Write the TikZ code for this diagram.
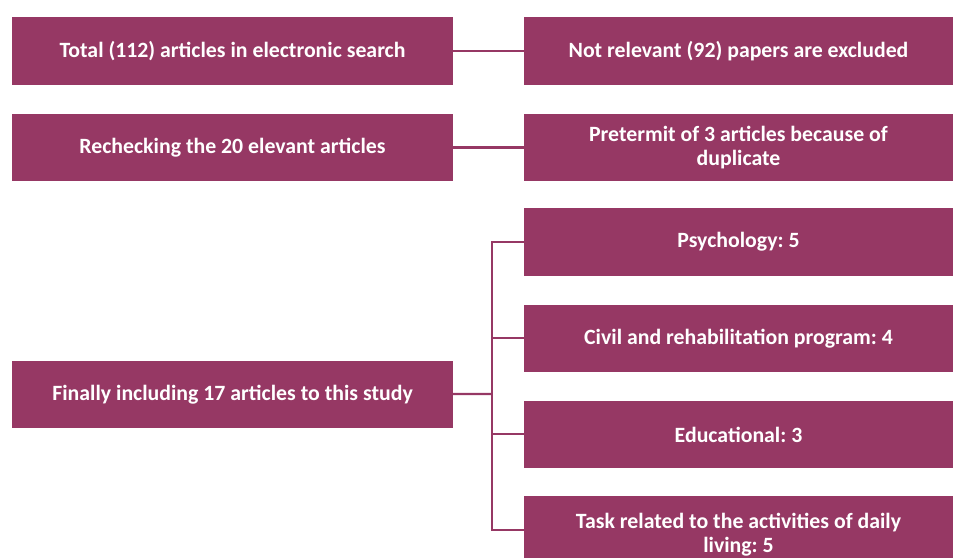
\documentclass[tikz,border=0pt]{standalone}
\usepackage{fontspec}
\setmainfont{Carlito}
\frenchspacing
\definecolor{plum}{RGB}{150,56,100}
\tikzset{
    stagebox/.style={fill=plum, text=white, font=\fontsize{21.8}{24}\selectfont\bfseries,
        align=center, inner sep=0pt, minimum height=67.5pt},
    leftbox/.style={stagebox, minimum width=441pt},
    rightbox/.style={stagebox, minimum width=429pt},
    link/.style={draw=plum, line width=2.2pt}
}
\begin{document}
\begin{tikzpicture}[x=1pt, y=-1pt]
    \useasboundingbox (0,0) rectangle (953,557);

    % Search and screening
    \node [leftbox] (total) at (232.5, 51) {Total (112) articles in electronic search};
    \node [rightbox] (excluded) at (738.5, 51) {Not relevant (92) papers are excluded};
    \node [leftbox] (recheck) at (232.5, 147.5) {Rechecking the 20 elevant articles};
    \node [rightbox] (duplicate) at (738.5, 147.5) {Pretermit of 3 articles because of\\duplicate};

    % Final selection
    \node [leftbox] (final) at (232.5, 394.5) {Finally including 17 articles to this study};
    \node [rightbox] (psych) at (738.5, 242) {Psychology: 5};
    \node [rightbox] (civil) at (738.5, 338.5) {Civil and rehabilitation program: 4};
    \node [rightbox] (edu) at (738.5, 434.5) {Educational: 3};
    \node [rightbox, minimum height=78pt] (task) at (738.5, 535) {Task related to the activities of daily\\living: 5};

    \draw [link] (total) -- (excluded);
    \draw [link] (recheck) -- (duplicate);

    % Branches
    \coordinate (trunk) at (492, 394);
    \draw [link] (final) -- (trunk);
    \foreach \n/\y in {psych/242, civil/338, edu/434, task/530}{
        \draw [link] (\n.west |- 0,\y) -| (trunk);
    }
\end{tikzpicture}
\end{document}
